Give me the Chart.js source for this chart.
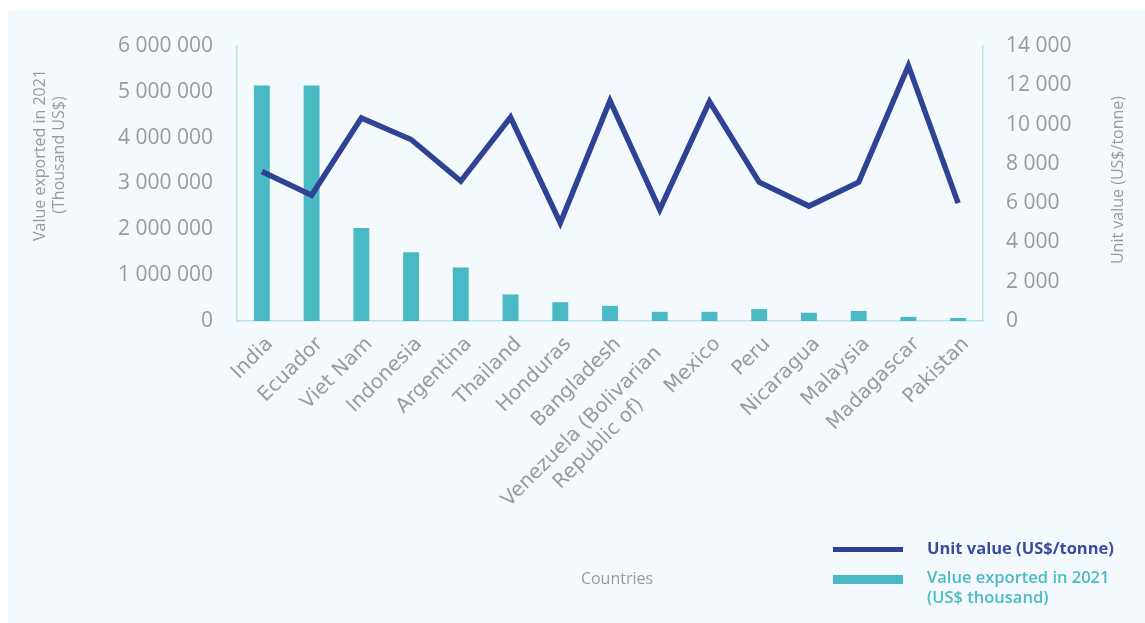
<!DOCTYPE html>
<html>
<head>
<meta charset="utf-8">
<script src="https://cdn.jsdelivr.net/npm/chart.js@4/dist/chart.umd.min.js"></script>
<style>
  html, body { margin: 0; padding: 0; background: #ffffff; }
  #panel { position: absolute; left: 8px; top: 10px; right: 0; bottom: 0; background: #F4F9FD; }
  #wrap { position: absolute; left: 0; top: 0; width: 1145px; height: 623px; }
  .lg { position: absolute; font-family: "Open Sans", sans-serif; white-space: nowrap; }
</style>
</head>
<body>
<div id="panel"></div>
<div id="wrap"><canvas id="c"></canvas></div>
<div class="lg" style="left:833px;top:547px;width:70px;height:4.5px;background:#2F4294;"></div>
<div class="lg" style="left:927px;top:537px;font-size:16.5px;font-weight:700;color:#3A4C9F;line-height:22px;">Unit value (US$/tonne)</div>
<div class="lg" style="left:833px;top:575px;width:70px;height:8.5px;background:#49BAC5;"></div>
<div class="lg" style="left:927px;top:567px;font-size:16.5px;font-weight:600;color:#49BCC6;line-height:20px;">Value exported in 2021<br>(US$ thousand)</div>
<script>
const countries = ['India', 'Ecuador', 'Viet Nam', 'Indonesia', 'Argentina', 'Thailand', 'Honduras', 'Bangladesh',
  ['Venezuela (Bolivarian', 'Republic of)'], 'Mexico', 'Peru', 'Nicaragua', 'Malaysia', 'Madagascar', 'Pakistan'];
const exportValue = [5140000, 5140000, 2030000, 1500000, 1170000, 580000, 410000, 330000, 200000, 200000, 260000, 180000, 220000, 90000, 65000];
const unitValue = [7610, 6400, 10340, 9240, 7120, 10370, 4990, 11220, 5670, 11170, 7070, 5850, 7070, 13000, 6000];
const leftTitle = ['Value exported in 2021', '(Thousand US$)'];
const rightTitle = 'Unit value (US$/tonne)';
const xTitle = 'Countries';

const gray = '#9A9A9A';
const axisColor = '#B5E2EA';
const fmt = v => Number(v).toLocaleString('en-US').replace(/,/g, ' ');

const titlesPlugin = {
  id: 'titles',
  afterDraw(chart) {
    const ctx = chart.ctx;
    ctx.save();
    ctx.fillStyle = gray;
    ctx.font = '16px "Open Sans"';
    ctx.textAlign = 'center';
    ctx.textBaseline = 'middle';
    ctx.save();
    ctx.translate(40, 155);
    ctx.rotate(-Math.PI / 2);
    ctx.fillText(leftTitle[0], 0, 0);
    ctx.fillText(leftTitle[1], 0, 19);
    ctx.restore();
    ctx.save();
    ctx.translate(1118, 180);
    ctx.rotate(-Math.PI / 2);
    ctx.fillText(rightTitle, 0, 0);
    ctx.restore();
    ctx.fillText(xTitle, 617, 579);

    // category labels, rotated 45 degrees, drawn at the x scale's tick pixels
    const xs = chart.scales.x;
    ctx.font = '20px "DejaVu Sans"';
    ctx.textBaseline = 'middle';
    const lh = 24;
    xs.ticks.forEach((t, i) => {
      const lab = countries[i];
      const lines = Array.isArray(lab) ? lab : [lab];
      const px = xs.getPixelForTick(i) + 8;
      const py = xs.top + 20;
      ctx.save();
      ctx.translate(px, py);
      ctx.rotate(-Math.PI / 4);
      if (lines.length === 1) {
        ctx.textAlign = 'right';
        ctx.fillText(lines[0], 0, 0);
      } else {
        const w = Math.max(...lines.map(l => ctx.measureText(l).width)) + 26;
        ctx.textAlign = 'center';
        lines.forEach((l, k) => ctx.fillText(l, -w / 2, k * lh));
      }
      ctx.restore();
    });
    ctx.restore();
  }
};

new Chart(document.getElementById('c'), {
  data: {
    labels: countries,
    datasets: [
      {
        type: 'line',
        label: 'Unit value (US$/tonne)',
        data: unitValue,
        yAxisID: 'y2',
        borderColor: '#2F4294',
        borderWidth: 5.5,
        pointRadius: 0,
        tension: 0,
        fill: false,
        borderJoinStyle: 'miter',
        borderCapStyle: 'butt',
        order: 0
      },
      {
        type: 'bar',
        label: 'Value exported in 2021 (US$ thousand)',
        data: exportValue,
        yAxisID: 'y',
        backgroundColor: '#49BAC5',
        barPercentage: 0.32,
        categoryPercentage: 1,
        order: 1
      }
    ]
  },
  options: {
    responsive: true,
    maintainAspectRatio: false,
    animation: false,
    devicePixelRatio: 1,
    layout: { padding: { top: 46, left: 0, right: 0, bottom: 0 } },
    plugins: { legend: { display: false }, tooltip: { enabled: false } },
    scales: {
      x: {
        offset: true,
        grid: { display: false, drawTicks: false },
        border: { display: true, color: axisColor, width: 1.5 },
        ticks: { display: false, autoSkip: false },
        afterFit(s) { s.height = 302; }
      },
      y: {
        position: 'left',
        min: 0, max: 6000000,
        grid: { display: false, drawTicks: false },
        border: { display: true, color: axisColor, width: 1.5 },
        ticks: {
          stepSize: 1000000, padding: 24, color: gray,
          font: { family: 'Open Sans', size: 21 },
          callback: v => fmt(v)
        },
        afterFit(s) { s.width = 237; }
      },
      y2: {
        position: 'right',
        min: 0, max: 14000,
        grid: { display: false, drawTicks: false },
        border: { display: true, color: axisColor, width: 1.5 },
        ticks: {
          stepSize: 2000, padding: 23, color: gray,
          font: { family: 'Open Sans', size: 21 },
          callback: v => fmt(v)
        },
        afterFit(s) { s.width = 162; }
      }
    }
  },
  plugins: [titlesPlugin]
});
</script>
</body>
</html>
